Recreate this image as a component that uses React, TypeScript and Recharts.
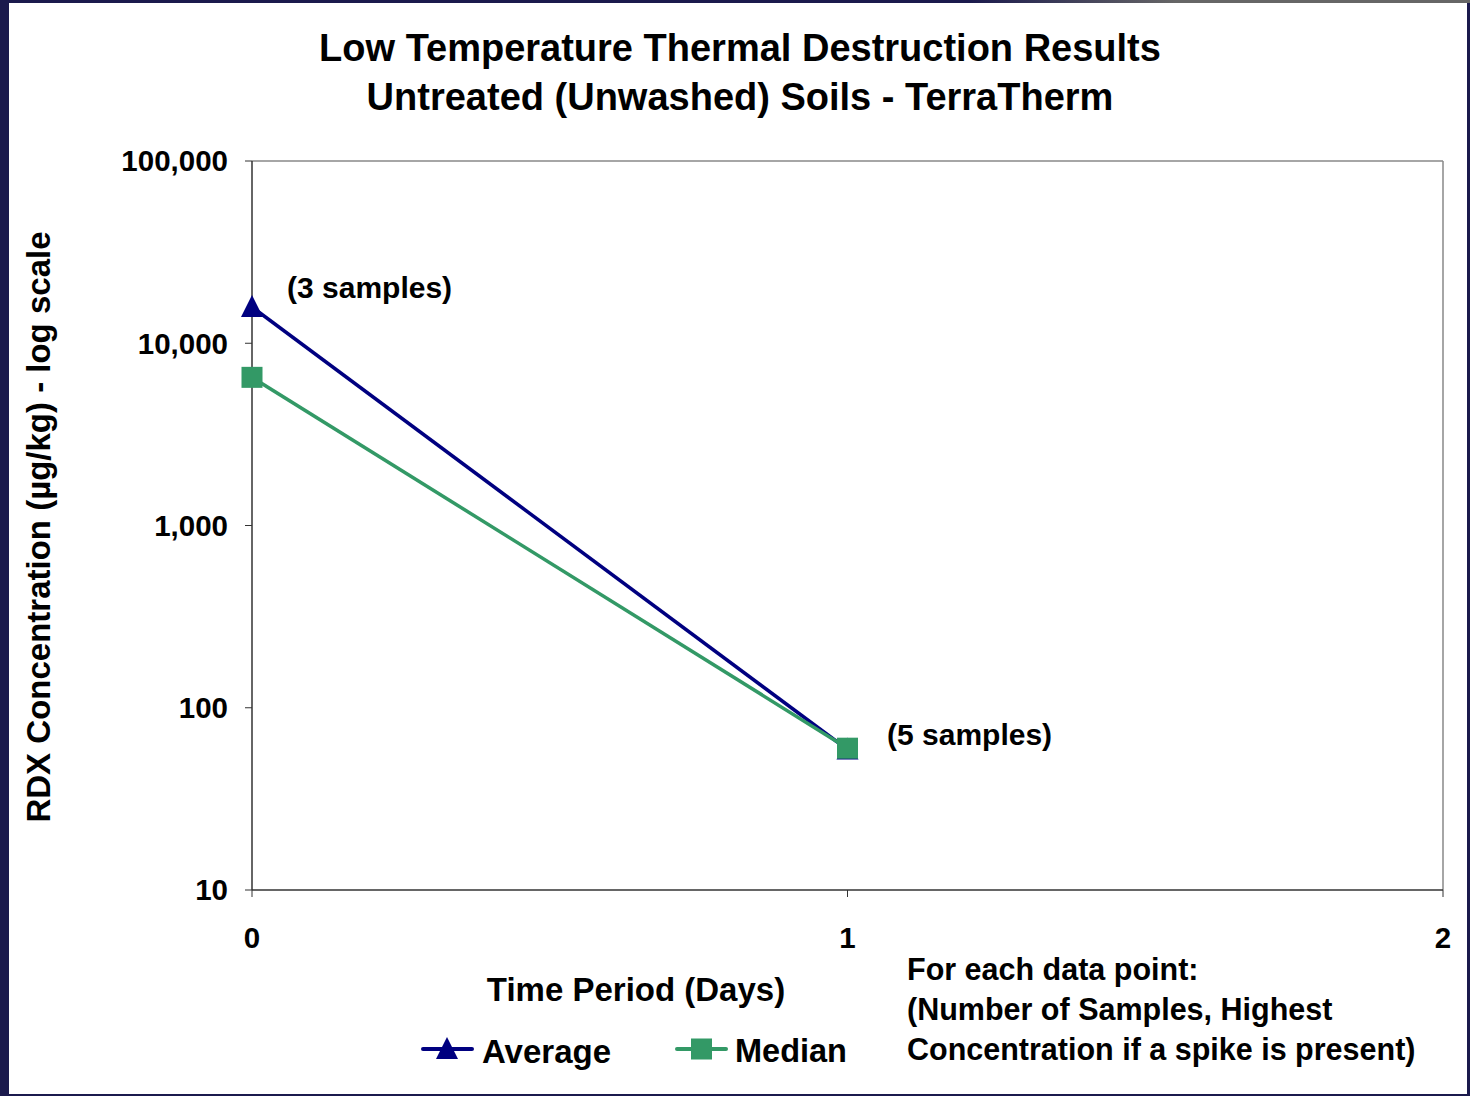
import React from "react";
import { LineChart, Line, XAxis, YAxis, ReferenceLine } from "recharts";

// values (log scale, µg/kg)
const days = [0, 1];
const average = [15800, 59];
const median = [6500, 60];
const yTicks = [10, 100, 1000, 10000, 100000];
const xTicks = [0, 1, 2];
const titleLines = [
  "Low Temperature Thermal Destruction Results",
  "Untreated (Unwashed) Soils - TerraTherm",
];
const noteLines = [
  "For each data point:",
  "(Number of Samples, Highest",
  "Concentration if a spike is present)",
];

const data = days.map((d, i) => ({ day: d, average: average[i], median: median[i] }));

const FONT = '"Liberation Sans", Arial, Helvetica, sans-serif';
const NAVY = "#000080";
const GREEN = "#339966";

const fmt = (v: number) => v.toLocaleString("en-US");

const Triangle = (props: any) => {
  const { cx, cy, key } = props;
  if (cx == null || cy == null) return null;
  return (
    <path
      key={key}
      d={`M${cx},${cy - 12} L${cx + 11},${cy + 10} L${cx - 11},${cy + 10} Z`}
      fill={NAVY}
    />
  );
};

const Square = (props: any) => {
  const { cx, cy, key } = props;
  if (cx == null || cy == null) return null;
  return <rect key={key} x={cx - 10.5} y={cy - 10.5} width={21} height={21} fill={GREEN} />;
};

const textBase: React.CSSProperties = {
  position: "absolute",
  fontFamily: FONT,
  fontWeight: "bold",
  color: "#000",
  whiteSpace: "nowrap",
};

export default function App() {
  return (
    <div
      style={{
        position: "absolute",
        left: 0,
        top: 0,
        width: 1470,
        height: 1096,
        background: "#1b1a4d",
        overflow: "hidden",
      }}
    >
      {/* top edge fades to gray on the right */}
      <div
        style={{
          position: "absolute",
          left: 0,
          top: 0,
          width: 1470,
          height: 3,
          background: "linear-gradient(to right, #1b1a4d 0%, #1b1a4d 66%, #666 80%, #666 100%)",
        }}
      />
      <div
        style={{ position: "absolute", left: 9, top: 3, width: 1458, height: 1091, background: "#fff" }}
      />

      <div style={{ position: "absolute", left: 0, top: 0 }}>
        <LineChart
          width={1470}
          height={1096}
          data={data}
          margin={{ top: 161, right: 27, bottom: 146, left: 20 }}
        >
          <XAxis
            dataKey="day"
            type="number"
            domain={[0, 2]}
            ticks={xTicks}
            height={60}
            tickSize={7}
            tickMargin={30}
            stroke="#333"
            axisLine={{ stroke: "#333", strokeWidth: 1.5 }}
            tick={{ fill: "#000", fontSize: 29.5, fontWeight: "bold", fontFamily: FONT }}
          />
          <YAxis
            type="number"
            scale="log"
            domain={[10, 100000]}
            allowDataOverflow
            ticks={yTicks}
            tickFormatter={fmt}
            width={232}
            tickSize={7}
            tickMargin={17}
            stroke="#333"
            axisLine={{ stroke: "#333", strokeWidth: 1.5 }}
            tick={{ fill: "#000", fontSize: 29.5, fontWeight: "bold", fontFamily: FONT }}
          />
          <ReferenceLine y={100000} stroke="#888" strokeWidth={1.5} ifOverflow="visible" />
          <ReferenceLine x={2} stroke="#888" strokeWidth={1.5} ifOverflow="visible" />
          <Line
            dataKey="average"
            stroke={NAVY}
            strokeWidth={3.5}
            dot={Triangle}
            activeDot={false}
            isAnimationActive={false}
          />
          <Line
            dataKey="median"
            stroke={GREEN}
            strokeWidth={3.5}
            dot={Square}
            activeDot={false}
            isAnimationActive={false}
          />
        </LineChart>
      </div>

      {/* title */}
      <div
        style={{
          ...textBase,
          left: 10,
          top: 23.5,
          width: 1460,
          textAlign: "center",
          fontSize: 38,
          lineHeight: "49px",
        }}
      >
        {titleLines.map((t) => (
          <div key={t}>{t}</div>
        ))}
      </div>

      {/* y axis title */}
      <div
        style={{
          ...textBase,
          left: 38,
          top: 527,
          fontSize: 33,
          lineHeight: "33px",
          transform: "translate(-50%, -50%) rotate(-90deg)",
        }}
      >
        RDX Concentration (µg/kg) - log scale
      </div>

      {/* x axis title */}
      <div
        style={{
          ...textBase,
          left: 636,
          top: 989,
          fontSize: 33,
          lineHeight: "33px",
          transform: "translate(-50%, -50%)",
        }}
      >
        Time Period (Days)
      </div>

      {/* sample annotations */}
      <div style={{ ...textBase, left: 287, top: 273, fontSize: 30, lineHeight: "30px" }}>
        (3 samples)
      </div>
      <div style={{ ...textBase, left: 887, top: 720, fontSize: 30, lineHeight: "30px" }}>
        (5 samples)
      </div>

      {/* note */}
      <div style={{ ...textBase, left: 907, top: 949, fontSize: 30.5, lineHeight: "40px" }}>
        {noteLines.map((t) => (
          <div key={t}>{t}</div>
        ))}
      </div>

      {/* legend */}
      <svg style={{ position: "absolute", left: 0, top: 1030 }} width={760} height={40}>
        <line x1={423} y1={19} x2={472} y2={19} stroke={NAVY} strokeWidth={4} strokeLinecap="round" />
        <path d="M447,7 L458,29 L436,29 Z" fill={NAVY} />
        <line x1={677} y1={19} x2={726} y2={19} stroke={GREEN} strokeWidth={4} strokeLinecap="round" />
        <rect x={691} y={8.5} width={21} height={21} fill={GREEN} />
      </svg>
      <div style={{ ...textBase, left: 482, top: 1034.5, fontSize: 33, lineHeight: "33px" }}>Average</div>
      <div style={{ ...textBase, left: 735, top: 1034.5, fontSize: 32.5, lineHeight: "33px" }}>Median</div>
    </div>
  );
}
